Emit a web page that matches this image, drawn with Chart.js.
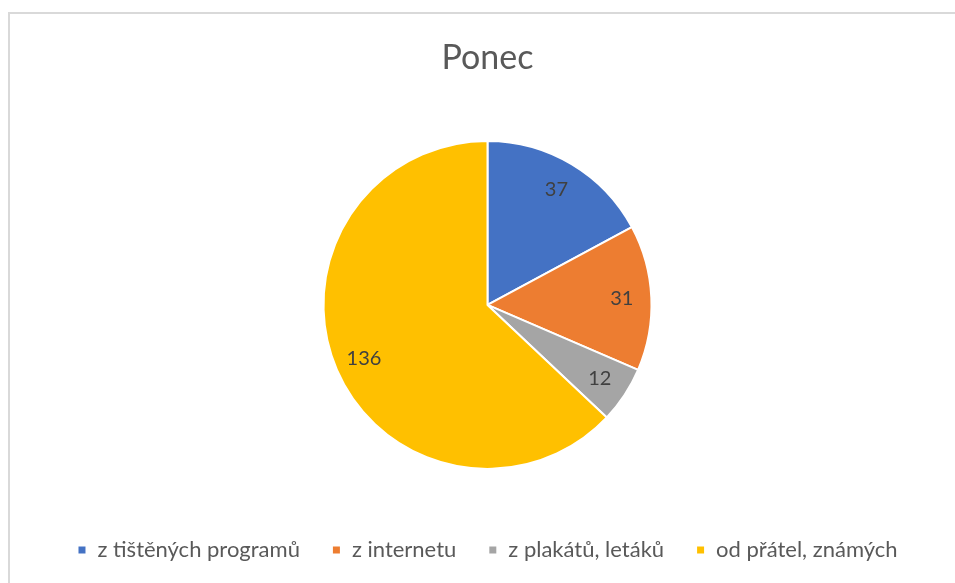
<!DOCTYPE html>
<html>
<head>
<meta charset="utf-8">
<script src="https://cdn.jsdelivr.net/npm/chart.js@4/dist/chart.umd.min.js"></script>
<style>
html,body{margin:0;padding:0;background:#fff;width:955px;height:583px;overflow:hidden;}
#frame{position:absolute;left:8px;top:12px;width:1000px;height:700px;border:2px solid #d9d9d9;box-sizing:border-box;}
#wrap{position:absolute;left:0;top:0;width:955px;height:583px;}
</style>
</head>
<body>
<div id="frame"></div>
<div id="wrap"><canvas id="c"></canvas></div>
<script>
const titleText = "Ponec";
const categories = ["z tištěných programů", "z internetu", "z plakátů, letáků", "od přátel, známých"];
const values = [37, 31, 12, 136];
const colors = ["#4472c4", "#ed7d31", "#a5a5a5", "#ffc000"];

const labelPlugin = {
  id: 'sliceLabels',
  afterDatasetsDraw(chart) {
    const ctx = chart.ctx;
    const meta = chart.getDatasetMeta(0);
    ctx.save();
    ctx.font = '20px Lato, "Open Sans", sans-serif';
    ctx.fillStyle = '#404040';
    ctx.textAlign = 'center';
    ctx.textBaseline = 'middle';
    meta.data.forEach((arc, i) => {
      const p = arc.getProps(['x','y','startAngle','endAngle','outerRadius'], true);
      const a = (p.startAngle + p.endAngle) / 2;
      const r = p.outerRadius * 0.82;
      ctx.fillText(String(values[i]), p.x + Math.cos(a) * r, p.y + Math.sin(a) * r);
    });
    ctx.restore();
  }
};

new Chart(document.getElementById('c'), {
  type: 'pie',
  data: {
    labels: categories,
    datasets: [{
      data: values,
      backgroundColor: colors,
      borderColor: '#ffffff',
      borderWidth: 2,
      radius: 164
    }]
  },
  options: {
    responsive: true,
    maintainAspectRatio: false,
    animation: false,
    layout: { padding: { top: 0, bottom: 12, left: 20, right: 0 } },
    plugins: {
      title: {
        display: true,
        text: titleText,
        color: '#595959',
        font: { family: 'Lato, "Open Sans", sans-serif', size: 34, weight: 'normal' },
        padding: { top: 38, bottom: 24 }
      },
      legend: {
        position: 'bottom',
        labels: {
          color: '#595959',
          font: { family: 'Lato, "Open Sans", sans-serif', size: 22 },
          boxWidth: 9,
          boxHeight: 9,
          padding: 32
        }
      },
      tooltip: { enabled: false }
    }
  },
  plugins: [labelPlugin]
});
</script>
</body>
</html>
